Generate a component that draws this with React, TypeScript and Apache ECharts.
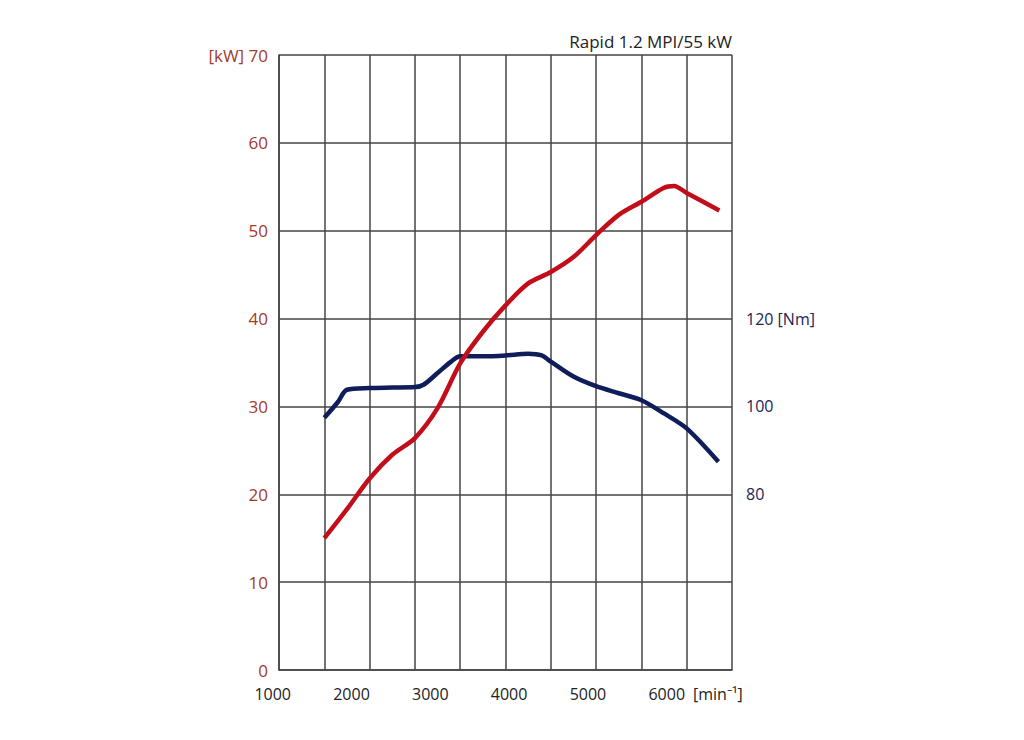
import React, { useEffect, useRef } from "react";
import * as echarts from "echarts";

const title = "Rapid 1.2 MPI/55 kW";

const powerRpm = [1500, 1750, 2000, 2250, 2500, 2750, 3000, 3250, 3500, 3750, 4000, 4250, 4500, 4750, 5000, 5250, 5360, 5500, 5860];
const powerKw = [15.0, 18.3, 21.8, 24.5, 26.4, 29.8, 34.9, 38.5, 41.5, 44.0, 45.3, 47.0, 49.5, 51.8, 53.3, 54.9, 55.1, 54.3, 52.3];

const torqueRpm = [1500, 1650, 1750, 2000, 2250, 2500, 2600, 2750, 2900, 3000, 3250, 3500, 3750, 3900, 4000, 4250, 4500, 4750, 5000, 5250, 5500, 5850];
const torqueNm = [97.4, 101, 103.8, 104.2, 104.3, 104.4, 105, 107.6, 110.2, 111.4, 111.4, 111.6, 112, 111.6, 110.2, 106.8, 104.6, 103, 101.4, 98.4, 95, 87.4];

const xTickLabels = [1000, 2000, 3000, 4000, 5000, 6000];
const xUnit = "[min⁻¹]";
const kwTicks = [0, 10, 20, 30, 40, 50, 60, 70];
const nmTickLabels = [80, 100, 120];

export default function App() {
  const ref = useRef<HTMLDivElement>(null);
  useEffect(() => {
    if (!ref.current) return;
    const chart = echarts.init(ref.current, null, { renderer: "svg" });
    const font = "Open Sans";
    const gridColor = "#454545";
    const kwColor = "#a33a2a";
    const nmColor = "#1c2555";
    const textColor = "#222222";
    chart.setOption({
      animation: false,
      textStyle: { fontFamily: font },
      title: {
        text: title,
        right: 287,
        top: 28,
        textStyle: { fontFamily: font, fontSize: 17, fontWeight: "normal", color: textColor },
      },
      grid: { left: 279, right: 292, top: 55, bottom: 70, containLabel: false },
      xAxis: [
        {
          type: "value",
          min: 1000,
          max: 6000,
          interval: 500,
          axisLine: { show: true, lineStyle: { color: gridColor, width: 1.5 } },
          axisTick: { show: false },
          axisLabel: { show: false },
          splitLine: { show: true, lineStyle: { color: gridColor, width: 1.5 } },
          name: xUnit,
          nameLocation: "end",
          nameGap: -39,
          nameTextStyle: {
            fontFamily: font,
            fontSize: 16,
            color: textColor,
            align: "left",
            verticalAlign: "top",
            padding: [16, 0, 0, 0],
          },
        },
        {
          type: "value",
          position: "bottom",
          min: 848,
          max: 6596,
          axisLine: { show: false },
          axisTick: { show: false },
          splitLine: { show: false },
          axisLabel: {
            customValues: xTickLabels,
            align: "right",
            margin: 16,
            fontSize: 16,
            fontFamily: font,
            color: textColor,
            formatter: (v: number) => String(v),
          },
        },
      ],
      yAxis: [
        {
          type: "value",
          min: kwTicks[0],
          max: kwTicks[kwTicks.length - 1],
          interval: 10,
          axisLine: { show: true, lineStyle: { color: gridColor, width: 1.5 } },
          axisTick: { show: false },
          splitLine: { show: true, lineStyle: { color: gridColor, width: 1.5 } },
          axisLabel: {
            margin: 11,
            fontSize: 17,
            fontFamily: font,
            color: kwColor,
            formatter: (v: number) => (v === 70 ? "[kW] 70" : String(v)),
          },
        },
        {
          type: "value",
          min: 40,
          max: 180,
          interval: 20,
          position: "right",
          axisLine: { show: false },
          axisTick: { show: false },
          splitLine: { show: false },
          axisLabel: {
            margin: 14,
            fontSize: 16,
            fontFamily: font,
            color: nmColor,
            formatter: (v: number) =>
              nmTickLabels.indexOf(v) >= 0 ? (v === 120 ? "120 [Nm]" : String(v)) : "",
          },
        },
      ],
      series: [
        {
          type: "line",
          name: "Power",
          xAxisIndex: 0,
          yAxisIndex: 0,
          data: powerRpm.map((r, i) => [r, powerKw[i]]),
          smooth: 0.3,
          showSymbol: false,
          lineStyle: { color: "#c20e1a", width: 4.5 },
          z: 3,
        },
        {
          type: "line",
          name: "Torque",
          xAxisIndex: 0,
          yAxisIndex: 1,
          data: torqueRpm.map((r, i) => [r, torqueNm[i]]),
          smooth: 0.3,
          showSymbol: false,
          lineStyle: { color: "#0f1e5a", width: 4.5 },
          z: 2,
        },
      ],
    });
    return () => chart.dispose();
  }, []);
  return (
    <div
      ref={ref}
      style={{ position: "absolute", left: 0, top: 0, width: 1024, height: 740, background: "#ffffff" }}
    />
  );
}
